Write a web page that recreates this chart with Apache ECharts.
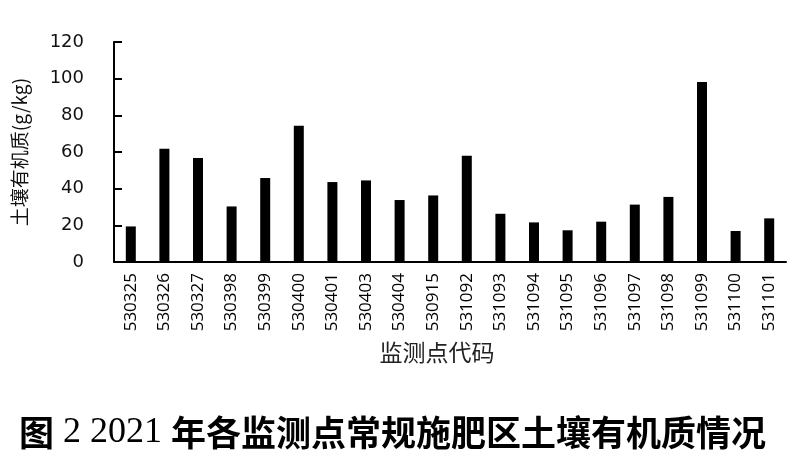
<!DOCTYPE html>
<html>
<head>
<meta charset="utf-8">
<script src="https://cdn.jsdelivr.net/npm/echarts@6/dist/echarts.min.js"></script>
<style>
html,body{margin:0;padding:0;background:#fff;}
#main{width:800px;height:457px;}
</style>
</head>
<body>
<div id="main"></div>
<script>
const categories = ['530325','530326','530327','530398','530399','530400','530401','530403','530404','530915','531092','531093','531094','531095','531096','531097','531098','531099','531100','531101'];
const values = [19.4, 61.8, 56.7, 30.3, 45.8, 74.3, 43.6, 44.5, 33.8, 36.3, 58.0, 26.3, 21.6, 17.3, 22.0, 31.3, 35.5, 98.2, 16.9, 23.8];
const yTicks = [0, 20, 40, 60, 80, 100, 120];
const yName = '土壤有机质(g/kg)';
const xName = '监测点代码';
const titleParts = ['图', ' 2 2021 ', '年各监测点常规施肥区土壤有机质情况'];

const chart = echarts.init(document.getElementById('main'), null, {renderer: 'canvas'});
chart.setOption({
  animation: false,
  backgroundColor: '#ffffff',
  title: {
    left: 14,
    top: 410,
    text: '{c|' + titleParts[0] + '}{n|' + titleParts[1] + '}{c|' + titleParts[2] + '}',
    textStyle: {
      fontWeight: 'normal',
      rich: {
        c: {fontFamily: 'Noto Sans CJK SC', fontWeight: 'bold', fontSize: 35, color: '#000'},
        n: {fontFamily: 'Liberation Serif', fontWeight: 'normal', fontSize: 36, color: '#000'}
      }
    }
  },
  grid: {left: 114, right: 14, top: 42, bottom: 195, containLabel: false},
  xAxis: {
    type: 'category',
    data: categories,
    boundaryGap: true,
    name: xName,
    nameLocation: 'middle',
    nameGap: 79,
    nameMoveOverlap: false,
    nameTextStyle: {fontFamily: 'Noto Sans CJK SC', fontSize: 23, color: '#222', padding: [0, 26, 0, 0]},
    axisLine: {lineStyle: {color: '#000', width: 2}},
    axisTick: {inside: true, length: 6, lineStyle: {color: '#000', width: 2}},
    axisLabel: {rotate: 90, margin: 11, fontFamily: 'Open Sans', fontSize: 17, color: '#000', interval: 0}
  },
  yAxis: {
    type: 'value',
    min: yTicks[0],
    max: yTicks[yTicks.length - 1],
    interval: 20,
    name: yName,
    nameLocation: 'middle',
    nameRotate: 90,
    nameGap: 85,
    nameMoveOverlap: false,
    nameTextStyle: {fontFamily: 'Noto Sans CJK SC', fontSize: 19, color: '#111'},
    axisLine: {show: true, lineStyle: {color: '#000', width: 2}},
    axisTick: {show: true, inside: true, length: 8, lineStyle: {color: '#000', width: 2}},
    splitLine: {show: false},
    axisLabel: {margin: 30, fontFamily: 'DejaVu Sans', fontSize: 18, color: '#111'}
  },
  series: [{
    type: 'bar',
    data: values,
    barWidth: 10,
    itemStyle: {color: '#000'}
  }]
});
</script>
</body>
</html>
